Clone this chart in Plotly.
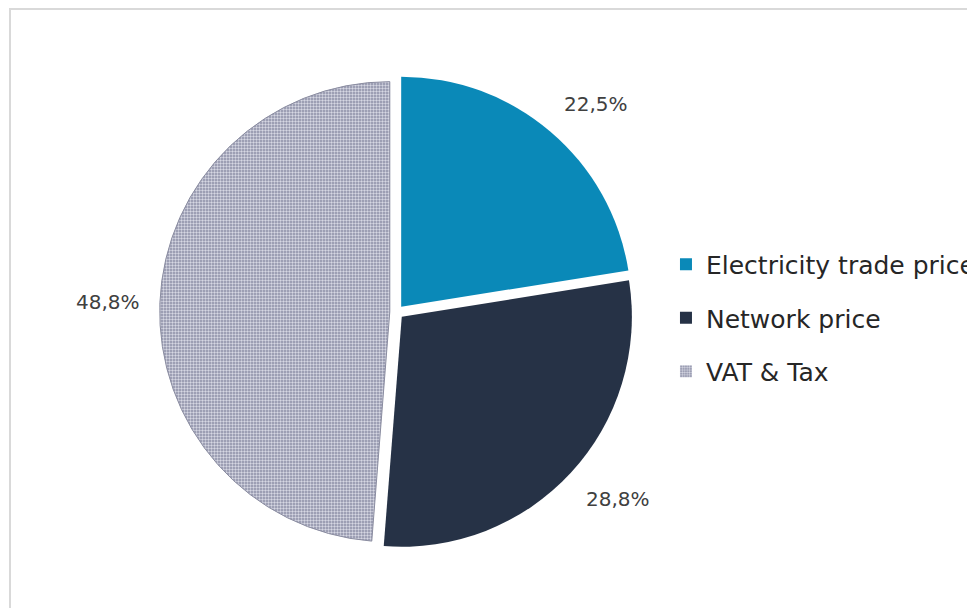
import math
import plotly.graph_objects as go

# Breakdown of the consumer electricity price (%)
categories = ["Electricity trade price", "Network price", "VAT & Tax"]
shares = [22.5, 28.8, 48.8]

colors = ["#0a89b8", "#263246", "#a9aabf"]
vat_pattern = dict(shape=".", size=3, solidity=0.5,
                   fgcolor="#d6d7e3", bgcolor="#8a8ca5", fillmode="replace")
no_pattern = dict(shape="")

labels_text = [f"{v:.1f}".replace(".", ",") + "%" for v in shares]

W, H = 967, 608
# pie box in pixels (centre and half-size), pull as a fraction of the radius
CX, CY, HALF = 396.7, 312.0, 237.0
PULL = 0.03

fig = go.Figure()

fig.add_trace(go.Pie(
    labels=categories,
    values=shares,
    textinfo="none",
    sort=False,
    direction="clockwise",
    rotation=0,
    pull=[PULL] * len(shares),
    marker=dict(
        colors=colors,
        line=dict(color=["rgba(0,0,0,0)", "rgba(0,0,0,0)", "#8a8ca0"], width=[0, 0, 1]),
        pattern=dict(shape=["", "", "."], size=3, solidity=0.5,
                     fgcolor=["#d6d7e3"] * 3,
                     bgcolor=[colors[0], colors[1], "#8a8ca5"],
                     fillmode="replace"),
    ),
    domain=dict(x=[(CX - HALF) / W, (CX + HALF) / W],
                y=[1 - (CY + HALF) / H, 1 - (CY - HALF) / H]),
    showlegend=False,
    hoverinfo="label+percent",
))

# Percentage labels placed outside each slice, along its mid angle
radius = 2 * HALF / (2 + 2 * PULL)
label_dist = radius + 25
total = sum(shares)
annotations = []
cum = 0.0
for v, txt in zip(shares, labels_text):
    mid = (cum + v / 2) / total * 2 * math.pi
    cum += v
    s, c = math.sin(mid), math.cos(mid)
    px = CX + label_dist * s
    py = CY - label_dist * c
    xa = "center" if abs(s) < 0.3 else ("left" if s > 0 else "right")
    ya = "middle" if abs(c) < 0.3 else ("bottom" if c > 0 else "top")
    annotations.append(dict(
        x=px / W, y=1 - py / H, xref="paper", yref="paper",
        text=txt, showarrow=False, xanchor=xa, yanchor=ya,
        font=dict(family="DejaVu Sans", size=20, color="#404040"),
    ))

# Legend entries, one group each so the rows can be spaced apart
for i, (name, col) in enumerate(zip(categories, colors)):
    pat = vat_pattern if i == 2 else no_pattern
    fig.add_trace(go.Bar(
        x=[None], y=[None], name=name,
        marker=dict(color=col, pattern=pat, line=dict(width=0)),
        legendgroup=f"g{i}", showlegend=True, hoverinfo="skip",
    ))

fig.update_layout(
    width=W, height=H,
    margin=dict(l=0, r=0, t=0, b=0, autoexpand=False),
    paper_bgcolor="white",
    plot_bgcolor="white",
    xaxis=dict(visible=False),
    yaxis=dict(visible=False),
    legend=dict(
        x=0.6887, xanchor="left", y=1 - 318 / H, yanchor="middle",
        font=dict(family="DejaVu Sans", size=25, color="#262626"),
        tracegroupgap=18,
        bgcolor="rgba(0,0,0,0)",
    ),
    annotations=annotations,
    shapes=[dict(
        type="rect", xref="paper", yref="paper",
        x0=10 / W, x1=1.02, y0=-0.02, y1=1 - 9 / H,
        line=dict(color="#d9d9d9", width=2), fillcolor="rgba(0,0,0,0)", layer="below",
    )],
)

fig.write_html("out.html")
